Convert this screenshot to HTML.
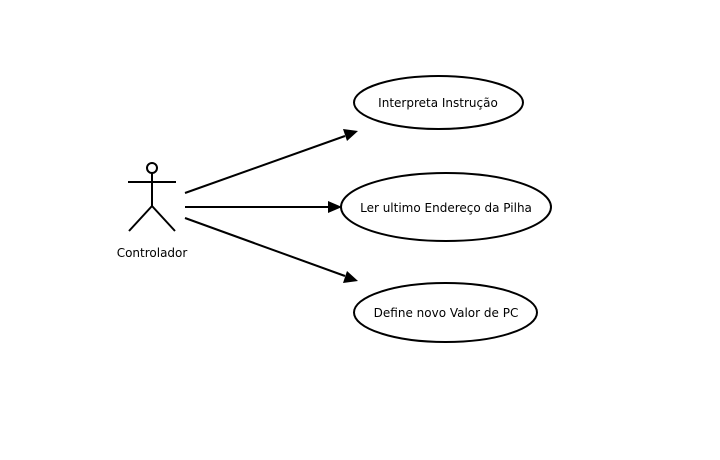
<!DOCTYPE html>
<html><head><style>body{margin:0;background:#fff}svg{display:block}text{font-family:"DejaVu Sans","Liberation Sans",sans-serif;font-size:12px;fill:#000}</style></head>
<body><svg width="720" height="460" xmlns="http://www.w3.org/2000/svg">
<g stroke="#000" stroke-width="2" fill="none">
<circle cx="152" cy="168" r="5"/>
<line x1="128" y1="182" x2="176" y2="182"/>
<line x1="152" y1="173" x2="152" y2="206"/>
<line x1="152" y1="206" x2="129" y2="231"/>
<line x1="152" y1="206" x2="175" y2="231"/>
<line x1="185" y1="193" x2="345" y2="136"/>
<line x1="185" y1="207" x2="328" y2="207"/>
<line x1="185" y1="218" x2="345" y2="276"/>
<ellipse cx="438.5" cy="102.5" rx="84.5" ry="26.5"/>
<ellipse cx="446" cy="207" rx="105" ry="34"/>
<ellipse cx="445.5" cy="312.5" rx="91.5" ry="29.5"/>
</g>
<polygon points="358,131 343,129 347,141" fill="#000"/>
<polygon points="342,207 328,201 328,213" fill="#000"/>
<polygon points="358,281 347,271 343,283" fill="#000"/>
<text x="152" y="257" text-anchor="middle">Controlador</text>
<text x="438" y="107" text-anchor="middle">Interpreta Instrução</text>
<text x="446" y="212" text-anchor="middle">Ler ultimo Endereço da Pilha</text>
<text x="446" y="317" text-anchor="middle">Define novo Valor de PC</text>
</svg></body></html>
